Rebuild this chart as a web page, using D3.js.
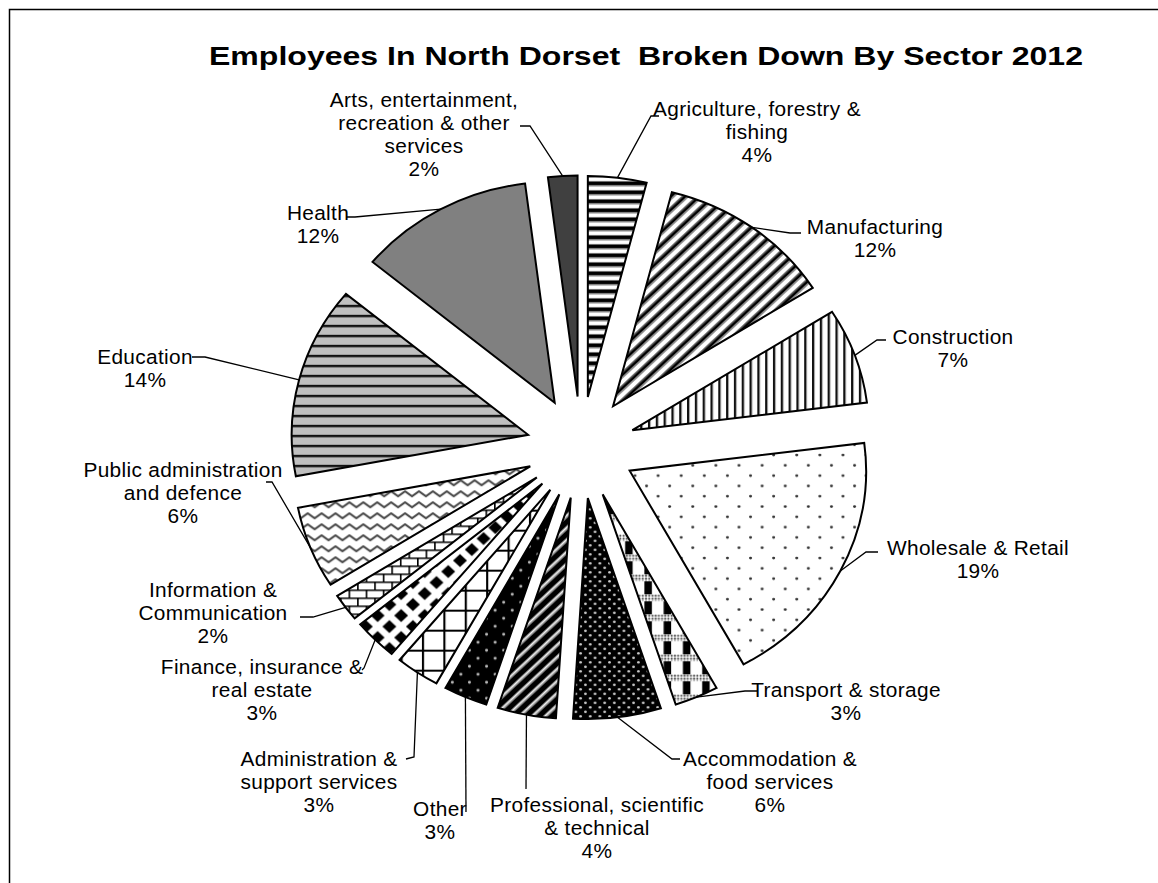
<!DOCTYPE html>
<html>
<head>
<meta charset="utf-8">
<script src="https://cdn.jsdelivr.net/npm/d3@7"></script>
<style>
  html, body { margin: 0; padding: 0; background: #fff; }
  svg { display: block; }
  text { font-family: "Liberation Sans", Arial, sans-serif; fill: #000; }
  .title { white-space: pre; }
</style>
</head>
<body>
<svg id="chart" width="1158" height="883"></svg>
<script>
// ---------------- data ----------------
const title = "Employees In North Dorset  Broken Down By Sector 2012";
const categories = [
  "Agriculture, forestry & fishing",
  "Manufacturing",
  "Construction",
  "Wholesale & Retail",
  "Transport & storage",
  "Accommodation & food services",
  "Professional, scientific & technical",
  "Other",
  "Administration & support services",
  "Finance, insurance & real estate",
  "Information & Communication",
  "Public administration and defence",
  "Education",
  "Health",
  "Arts, entertainment, recreation & other services"
];
const values = [4, 12, 7, 19, 3, 6, 4, 3, 3, 3, 2, 6, 14, 12, 2];
const labelLines = [
  ["Agriculture, forestry &", "fishing"],
  ["Manufacturing"],
  ["Construction"],
  ["Wholesale & Retail"],
  ["Transport & storage"],
  ["Accommodation &", "food services"],
  ["Professional, scientific", "& technical"],
  ["Other"],
  ["Administration &", "support services"],
  ["Finance, insurance &", "real estate"],
  ["Information &", "Communication"],
  ["Public administration", "and defence"],
  ["Education"],
  ["Health"],
  ["Arts, entertainment,", "recreation & other", "services"]
];

// ---------------- layout ----------------
const W = 1158, H = 883;
const cx = 581, cy = 447.5;      // pie centre
const sx = 1.07;                 // horizontal stretch of the original picture
const R = 221;                   // slice radius
const EXPLODE = 51;              // explosion distance
const fontSize = 19.5, lineH = 23;

// label placement: [centre x, first line centre y], leader [elbow, end]
const labelLayout = [
  { at: [757, 109], leader: [[651, 116], [659, 116]] },
  { at: [875, 227], leader: [[790, 233], [801, 233]] },
  { at: [953, 337], leader: [[877, 340], [886, 340]] },
  { at: [978, 548], leader: [[866, 552], [878, 552]] },
  { at: [846, 690], leader: [[745, 691], [758, 691]] },
  { at: [770, 759], leader: [[672, 759], [680, 759]] },
  { at: [597, 805], leader: [[526, 789], [526, 789]] },
  { at: [440, 809], leader: [[466, 812], [466, 812]] },
  { at: [319, 759], leader: [[414, 757], [406, 759]] },
  { at: [262, 667], leader: [[364, 668], [362, 670]] },
  { at: [213, 590], leader: [[313, 617], [300, 617]] },
  { at: [183, 470], leader: [[272, 482], [266, 482]] },
  { at: [145, 357], leader: [[205, 357], [192, 357]] },
  { at: [318, 213], leader: [[355, 217], [346, 217]] },
  { at: [424, 100], leader: [[530, 126], [520, 126]] }
];

const svg = d3.select("#chart");
svg.append("rect").attr("width", W).attr("height", H).attr("fill", "#fff");

// ---------------- patterns ----------------
const defs = svg.append("defs");
function pat(id, w, h, extra) {
  const p = defs.append("pattern").attr("id", id)
    .attr("patternUnits", "userSpaceOnUse").attr("width", w).attr("height", h);
  if (extra) p.attr("patternTransform", extra);
  return p;
}
// agriculture: dark horizontal stripes
{ const p = pat("p0", 9, 9);
  p.append("rect").attr("width", 9).attr("height", 9).attr("fill", "#fff");
  p.append("rect").attr("y", 0).attr("width", 9).attr("height", 1).attr("fill", "#777");
  p.append("rect").attr("y", 1).attr("width", 9).attr("height", 3.5).attr("fill", "#000");
  p.append("rect").attr("y", 4.5).attr("width", 9).attr("height", 1).attr("fill", "#777"); }
// manufacturing: wide upward diagonal
{ const p = pat("p1", 9.4, 10, "rotate(45)");
  p.append("rect").attr("width", 9.4).attr("height", 10).attr("fill", "#fff");
  p.append("rect").attr("x", 0).attr("width", 1.2).attr("height", 10).attr("fill", "#777");
  p.append("rect").attr("x", 1.2).attr("width", 3).attr("height", 10).attr("fill", "#000");
  p.append("rect").attr("x", 4.2).attr("width", 1.2).attr("height", 10).attr("fill", "#777"); }
// construction: vertical lines
{ const p = pat("p2", 7.3, 10);
  p.append("rect").attr("width", 7.3).attr("height", 10).attr("fill", "#fff");
  p.append("rect").attr("x", 0).attr("width", 2).attr("height", 10).attr("fill", "#111");
  p.append("rect").attr("x", 2).attr("width", 0.8).attr("height", 10).attr("fill", "#999"); }
// wholesale: sparse dots
{ const p = pat("p3", 21.6, 20.6);
  p.append("rect").attr("width", 21.6).attr("height", 20.6).attr("fill", "#fff");
  p.append("circle").attr("cx", 5).attr("cy", 5).attr("r", 1.4).attr("fill", "#333");
  p.append("circle").attr("cx", 15.8).attr("cy", 15.3).attr("r", 1.4).attr("fill", "#333"); }
// tiny checker used inside the transport plaid
{ const p = pat("ptiny", 3, 3);
  p.append("rect").attr("width", 3).attr("height", 3).attr("fill", "#fff");
  p.append("circle").attr("cx", 1.5).attr("cy", 1.5).attr("r", 1).attr("fill", "#333"); }
// transport: plaid
{ const p = pat("p4", 18, 20);
  p.append("rect").attr("width", 18).attr("height", 20).attr("fill", "#fff");
  p.append("rect").attr("x", 3).attr("y", 7).attr("width", 7).attr("height", 13).attr("fill", "#000");
  p.append("rect").attr("x", 0).attr("y", 0).attr("width", 18).attr("height", 7).attr("fill", "url(#ptiny)"); }
// accommodation: black with white dots
{ const p = pat("p5", 9, 9);
  p.append("rect").attr("width", 9).attr("height", 9).attr("fill", "#000");
  p.append("circle").attr("cx", 2.25).attr("cy", 2.25).attr("r", 1.3).attr("fill", "#ccc");
  p.append("circle").attr("cx", 6.75).attr("cy", 6.75).attr("r", 1.3).attr("fill", "#ccc"); }
// professional: dark upward diagonal
{ const p = pat("p6", 8.5, 10, "rotate(45)");
  p.append("rect").attr("width", 8.5).attr("height", 10).attr("fill", "#000");
  p.append("rect").attr("x", 0).attr("width", 1).attr("height", 10).attr("fill", "#888");
  p.append("rect").attr("x", 1).attr("width", 1.6).attr("height", 10).attr("fill", "#fff");
  p.append("rect").attr("x", 2.6).attr("width", 1).attr("height", 10).attr("fill", "#888"); }
// other: black with sparse white dots
{ const p = pat("p7", 16, 16);
  p.append("rect").attr("width", 16).attr("height", 16).attr("fill", "#000");
  p.append("circle").attr("cx", 4).attr("cy", 4).attr("r", 1.4).attr("fill", "#bbb");
  p.append("circle").attr("cx", 12).attr("cy", 12).attr("r", 1.4).attr("fill", "#bbb"); }
// admin: large grid
{ const p = pat("p8", 20, 20);
  p.append("rect").attr("width", 20).attr("height", 20).attr("fill", "#fff");
  p.append("rect").attr("x", 0).attr("width", 2).attr("height", 20).attr("fill", "#000");
  p.append("rect").attr("y", 0).attr("width", 20).attr("height", 2).attr("fill", "#000"); }
// finance: solid diamonds
{ const p = pat("p9", 22, 22);
  p.append("rect").attr("width", 22).attr("height", 22).attr("fill", "#fff");
  const dm = (x, y, s) => `M${x},${y - s}L${x + s},${y}L${x},${y + s}L${x - s},${y}Z`;
  p.append("path").attr("d", dm(11, 11, 6.5) + dm(0, 0, 6.5) + dm(22, 0, 6.5) + dm(0, 22, 6.5) + dm(22, 22, 6.5)).attr("fill", "#000"); }
// information: horizontal bricks
{ const p = pat("p10", 16, 16);
  p.append("rect").attr("width", 16).attr("height", 16).attr("fill", "#fff");
  p.append("path").attr("d", "M0,0.75H16M0,8.75H16M0.75,0V8M8.75,8V16")
    .attr("stroke", "#000").attr("stroke-width", 1.5).attr("fill", "none"); }
// public administration: zigzag
{ const p = pat("p11", 13, 11);
  p.append("rect").attr("width", 13).attr("height", 11).attr("fill", "#fff");
  p.append("path").attr("d", "M-6.5,8L0,3L6.5,8L13,3L19.5,8")
    .attr("stroke", "#444").attr("stroke-width", 2).attr("fill", "none").attr("stroke-linejoin", "round"); }
// education: grey with horizontal lines
{ const p = pat("p12", 10, 10);
  p.append("rect").attr("width", 10).attr("height", 10).attr("fill", "#c0c0c0");
  p.append("rect").attr("y", 0).attr("width", 10).attr("height", 2).attr("fill", "#111");
  p.append("rect").attr("y", 2).attr("width", 10).attr("height", 1).attr("fill", "#777"); }

const fills = ["url(#p0)", "url(#p1)", "url(#p2)", "url(#p3)", "url(#p4)", "url(#p5)", "url(#p6)",
  "url(#p7)", "url(#p8)", "url(#p9)", "url(#p10)", "url(#p11)", "url(#p12)", "#808080", "#404040"];

// ---------------- border ----------------
svg.append("rect").attr("x", 9.5).attr("y", 9.5).attr("width", 1300).attr("height", 1000)
  .attr("fill", "none").attr("stroke", "#000").attr("stroke-width", 1.5);

// ---------------- title ----------------
svg.append("text").attr("class", "title").attr("x", 646).attr("y", 65).attr("text-anchor", "middle")
  .attr("font-size", 26).attr("font-weight", "bold")
  .attr("textLength", 874).attr("lengthAdjust", "spacingAndGlyphs")
  .text(title);

// ---------------- pie ----------------
const pie = d3.pie().sort(null).value(d => d)(values);
const arc = d3.arc().innerRadius(0).outerRadius(R);
const g = svg.append("g").attr("transform", `translate(${cx},${cy}) scale(${sx},1)`);
g.selectAll("path.slice").data(pie).enter().append("path")
  .attr("class", "slice")
  .attr("transform", d => {
    const m = (d.startAngle + d.endAngle) / 2;
    return `translate(${EXPLODE * Math.sin(m)},${-EXPLODE * Math.cos(m)})`;
  })
  .attr("d", arc)
  .attr("fill", (d, i) => fills[i])
  .attr("stroke", "#000").attr("stroke-width", 2)
  .attr("stroke-linejoin", "miter")
  .attr("vector-effect", "non-scaling-stroke");

// ---------------- leaders ----------------
const line = d3.line();
pie.forEach((d, i) => {
  const m = (d.startAngle + d.endAngle) / 2;
  const start = [cx + sx * (EXPLODE + R) * Math.sin(m), cy - (EXPLODE + R) * Math.cos(m)];
  const pts = [start].concat(labelLayout[i].leader);
  svg.append("path").attr("d", line(pts)).attr("fill", "none")
    .attr("stroke", "#000").attr("stroke-width", 1.3);
});

// ---------------- labels ----------------
pie.forEach((d, i) => {
  const lines = labelLines[i].concat([values[i] + "%"]);
  const [x, y] = labelLayout[i].at;
  const t = svg.append("text")
    .attr("transform", `translate(${x},${y + 7}) scale(${sx},1)`)
    .attr("text-anchor", "middle").attr("font-size", fontSize)
    .attr("letter-spacing", 0.3);
  lines.forEach((s, k) => {
    t.append("tspan").attr("x", 0).attr("y", k * lineH).text(s);
  });
});
</script>
</body>
</html>
